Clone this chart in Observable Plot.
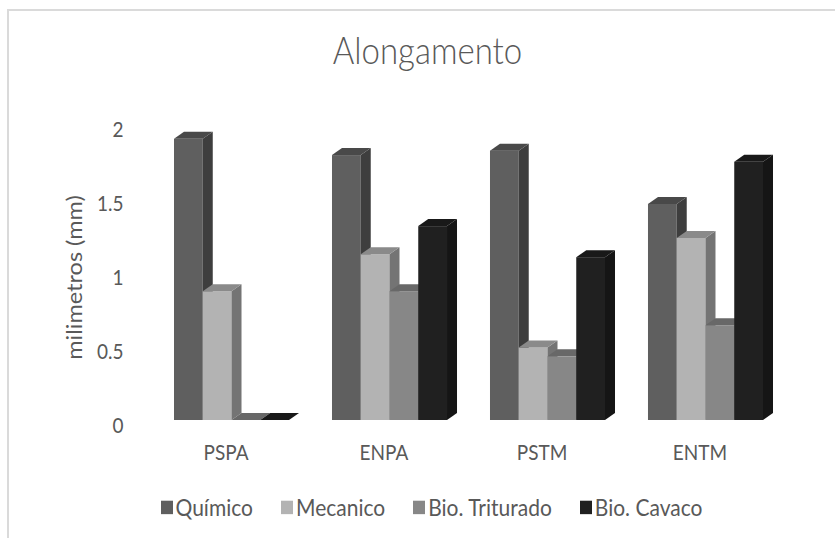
<!DOCTYPE html>
<html>
<head>
<meta charset="utf-8">
<script src="https://cdn.jsdelivr.net/npm/d3@7"></script>
<script src="https://cdn.jsdelivr.net/npm/@observablehq/plot@0.6"></script>
<style>
  html, body { margin: 0; padding: 0; background: #fff; overflow: hidden; }
  #page { position: relative; width: 835px; height: 538px; overflow: hidden;
          font-family: Lato, "Open Sans", sans-serif; font-weight: 300; color: #595959; }
  #frame { position: absolute; left: 7px; top: 9px; right: -20px; bottom: -20px;
           border-left: 2px solid #dadada; border-top: 2px solid #dadada; }
  #title { position: absolute; left: 10px; width: 835px; top: 33px; text-align: center;
           font-size: 33px; line-height: 1; font-weight: 300; transform: scaleY(1.12); }
  #chart { position: absolute; left: 0; top: 100px; }
  #legend { position: absolute; left: 14px; width: 835px; top: 491px; transform: scaleY(1.12); }
  #legend .lg-swatches { display: flex !important; justify-content: center; align-items: center;
           font-family: Lato, sans-serif !important; font-weight: 400; font-size: 21px !important;
           color: #595959 !important; }
  #legend .lg-swatch { margin: 0 14px !important; }
  #legend .lg-swatch > svg { margin-right: 3px !important; }
</style>
</head>
<body>
<div id="page">
  <div id="frame"></div>
  <div id="title">Alongamento</div>
  <div id="chart"></div>
  <div id="legend"></div>
</div>
<script>
// Amostras (eixo x) e tratamentos (séries)
const categories = ["PSPA", "ENPA", "PSTM", "ENTM"];
const series = ["Químico", "Mecanico", "Bio. Triturado", "Bio. Cavaco"];

// Alongamento medido, em mm, na ordem das amostras acima
const quimico      = [1.90, 1.79, 1.82, 1.46];
const mecanico     = [0.87, 1.12, 0.49, 1.23];
const bioTriturado = [0.00, 0.87, 0.43, 0.64];
const bioCavaco    = [0.00, 1.31, 1.10, 1.745];

const yTicks = [0, 0.5, 1, 1.5, 2];
const colors = ["#5f5f5f", "#b3b3b3", "#878787", "#202020"];

const columns = [quimico, mecanico, bioTriturado, bioCavaco];
const rows = categories.flatMap((c, i) =>
  series.map((s, j) => ({categoria: c, serie: s, valor: columns[j][i]})));

const chart = Plot.plot({
  width: 835,
  height: 370,
  marginTop: 24,
  marginBottom: 50,
  marginLeft: 174,
  marginRight: 72,
  style: {fontFamily: "Lato, sans-serif", fontWeight: 400, fontSize: "19px", color: "#595959",
          background: "transparent", overflow: "visible"},
  fx: {domain: categories, paddingInner: 0.272, paddingOuter: 0, round: false, label: null},
  x: {domain: series, padding: 0, round: false, axis: null},
  y: {domain: [0, 2], axis: null},
  color: {domain: series, range: colors},
  marks: [
    Plot.barY(rows, {fx: "categoria", x: "serie", y: "valor", fill: "serie", inset: 0}),
    Plot.axisFx({anchor: "bottom", tickSize: 0, tickPadding: 25, dx: -6, label: null}),
    Plot.axisY(yTicks, {tickSize: 0, tickPadding: 51, dy: 6, tickFormat: d => String(d), label: null}),
    Plot.text(["milimetros (mm)"], {fx: () => categories[0], text: d => d, frameAnchor: "left",
      textAnchor: "middle", dx: -99, dy: 5, rotate: -90, fontSize: 21, fill: "#595959"})
  ]
});

// Profundidade das colunas: face lateral e face superior de cada barra
const depthX = 10, depthY = 7;
const shade = (c, k) => { const r = d3.rgb(c); return d3.rgb(r.r * k, r.g * k, r.b * k).formatHex(); };
const NS = "http://www.w3.org/2000/svg";
chart.querySelectorAll('g[aria-label="bar"] rect').forEach(rect => {
  const x = +rect.getAttribute("x"), y = +rect.getAttribute("y");
  const w = +rect.getAttribute("width"), h = +rect.getAttribute("height");
  const fill = rect.getAttribute("fill");
  const side = document.createElementNS(NS, "polygon");
  side.setAttribute("points", [[x + w, y], [x + w + depthX, y - depthY], [x + w + depthX, y + h - depthY], [x + w, y + h]].join(" "));
  side.setAttribute("fill", shade(fill, 0.65));
  const top = document.createElementNS(NS, "polygon");
  top.setAttribute("points", [[x, y], [x + depthX, y - depthY], [x + w + depthX, y - depthY], [x + w, y]].join(" "));
  top.setAttribute("fill", shade(fill, 0.77));
  rect.after(side, top);
});

document.getElementById("chart").append(chart);

// Letras ligeiramente alongadas na vertical, esticadas em torno do próprio centro
const stretch = 1.12;
chart.querySelectorAll("text").forEach(t => {
  const parent = t.parentNode;
  const box = t.getBoundingClientRect();
  const pt = chart.createSVGPoint();
  pt.x = box.x + box.width / 2;
  pt.y = box.y + box.height / 2;
  const p = pt.matrixTransform(parent.getScreenCTM().inverse());
  const g = document.createElementNS(NS, "g");
  g.setAttribute("transform", `translate(0,${p.y}) scale(1,${stretch}) translate(0,${-p.y})`);
  parent.insertBefore(g, t);
  g.appendChild(t);
});

const legend = Plot.legend({
  color: {domain: series, range: colors},
  swatchSize: 12,
  className: "lg"
});
document.getElementById("legend").append(legend);
</script>
</body>
</html>
